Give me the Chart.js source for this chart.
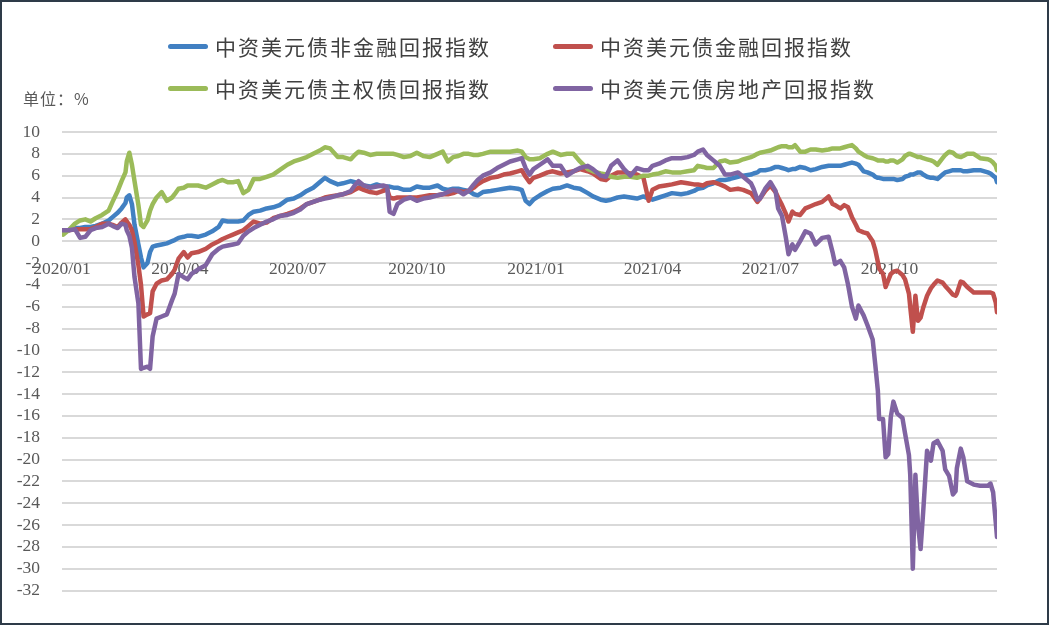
<!DOCTYPE html>
<html>
<head>
<meta charset="utf-8">
<script src="https://cdn.jsdelivr.net/npm/chart.js@4"></script>
<style>
html,body{margin:0;padding:0;background:#fff;}
#frame{position:relative;width:1049px;height:625px;box-sizing:border-box;border:2px solid #2e3b48;background:#fff;overflow:hidden;}
#box{position:absolute;left:0;top:0;width:1045px;height:621px;}
#legend{position:absolute;left:0;top:0;width:1045px;height:0;}
.item{position:absolute;display:flex;align-items:center;height:30px;font-family:"Noto Sans CJK SC";font-size:21px;letter-spacing:2px;color:#404040;white-space:nowrap;}
.swatch{display:inline-block;width:40px;height:5px;border-radius:3px;margin-right:7px;}
#unit{position:absolute;left:21px;top:86px;line-height:20px;font-family:"Noto Sans CJK SC";font-size:16px;letter-spacing:1px;color:#595959;}
</style>
</head>
<body>
<div id="frame">
  <div id="box"><canvas id="c"></canvas></div>
  <div id="legend"></div>
  <div id="unit">单位：%</div>
</div>
<script>
const seriesNames = ['中资美元债非金融回报指数','中资美元债金融回报指数','中资美元债主权债回报指数','中资美元债房地产回报指数'];
const seriesColors = ['#4180C2','#C0504D','#9BBB59','#8064A2'];
const tickDates = ['2020-01-01','2020-04-01','2020-07-01','2020-10-01','2021-01-01','2021-04-01','2021-07-01','2021-10-01'];
const tickLabels = ['2020/01','2020/04','2020/07','2020/10','2021/01','2021/04','2021/07','2021/10'];

const dates = [
'2020-01-02','2020-01-06','2020-01-11','2020-01-15','2020-01-19','2020-01-23','2020-01-27','2020-02-01','2020-02-06','2020-02-09',
'2020-02-13','2020-02-16','2020-02-19','2020-02-20','2020-02-22','2020-02-24','2020-02-26','2020-02-29','2020-03-02','2020-03-04',
'2020-03-07','2020-03-09','2020-03-11','2020-03-14','2020-03-18','2020-03-22','2020-03-26','2020-03-28','2020-03-31','2020-04-04',
'2020-04-07','2020-04-10','2020-04-15','2020-04-21','2020-04-26','2020-05-01','2020-05-04','2020-05-08','2020-05-12','2020-05-16',
'2020-05-20','2020-05-24','2020-05-28','2020-06-02','2020-06-07','2020-06-12','2020-06-17','2020-06-23','2020-06-28','2020-07-03',
'2020-07-08','2020-07-13','2020-07-18','2020-07-22','2020-07-26','2020-08-01','2020-08-05','2020-08-11','2020-08-14','2020-08-17',
'2020-08-21','2020-08-26','2020-08-31','2020-09-05','2020-09-08','2020-09-10','2020-09-13','2020-09-16','2020-09-21','2020-09-26',
'2020-10-01','2020-10-06','2020-10-11','2020-10-17','2020-10-21','2020-10-25','2020-10-29','2020-11-02','2020-11-06','2020-11-10',
'2020-11-14','2020-11-17','2020-11-21','2020-11-27','2020-12-02','2020-12-07','2020-12-12','2020-12-18','2020-12-21','2020-12-24',
'2020-12-27','2020-12-30','2021-01-04','2021-01-10','2021-01-14','2021-01-20','2021-01-25','2021-01-30','2021-02-04','2021-02-10',
'2021-02-14','2021-02-20','2021-02-24','2021-02-28','2021-03-05','2021-03-10','2021-03-15','2021-03-20','2021-03-25','2021-03-29',
'2021-04-01','2021-04-06','2021-04-11','2021-04-16','2021-04-23','2021-04-28','2021-05-03','2021-05-06','2021-05-10','2021-05-13',
'2021-05-18','2021-05-23','2021-05-27','2021-05-31','2021-06-06','2021-06-10','2021-06-16','2021-06-18','2021-06-21','2021-06-23',
'2021-06-27','2021-07-01','2021-07-05','2021-07-07','2021-07-10','2021-07-13','2021-07-15','2021-07-18','2021-07-20','2021-07-24',
'2021-07-28','2021-08-01','2021-08-05','2021-08-10','2021-08-15','2021-08-18','2021-08-20','2021-08-24','2021-08-27','2021-08-30',
'2021-09-02','2021-09-05','2021-09-07','2021-09-11','2021-09-14','2021-09-18','2021-09-20','2021-09-22','2021-09-23','2021-09-26',
'2021-09-28','2021-09-30','2021-10-02','2021-10-04','2021-10-07','2021-10-11','2021-10-13','2021-10-16','2021-10-17','2021-10-19',
'2021-10-21','2021-10-23','2021-10-25','2021-10-27','2021-10-30','2021-11-02','2021-11-04','2021-11-07','2021-11-11','2021-11-13',
'2021-11-16','2021-11-19','2021-11-21','2021-11-22','2021-11-25','2021-11-27','2021-11-30','2021-12-05','2021-12-10','2021-12-16',
'2021-12-18','2021-12-20','2021-12-22','2021-12-23'
];

const nonFinancial = [
1.0,1.0,1.2,1.2,1.3,1.3,1.4,1.6,1.9,2.2,
2.6,3.0,3.5,4.0,4.2,3.4,1.5,-0.3,-1.5,-2.4,
-2.0,-1.0,-0.5,-0.4,-0.3,-0.2,0.0,0.1,0.3,0.4,
0.5,0.5,0.4,0.6,0.9,1.3,1.9,1.8,1.8,1.8,
1.9,2.4,2.7,2.8,3.0,3.1,3.3,3.8,3.9,4.2,
4.6,4.9,5.4,5.8,5.5,5.2,5.3,5.5,5.4,5.3,
5.1,5.0,5.2,5.0,5.0,5.0,4.9,4.9,4.7,4.7,
5.0,4.9,4.9,5.1,4.8,4.7,4.8,4.8,4.7,4.6,
4.3,4.2,4.5,4.6,4.7,4.8,4.9,4.8,4.7,3.7,
3.4,3.8,4.2,4.6,4.8,4.9,5.1,4.9,4.8,4.4,
4.1,3.8,3.7,3.8,4.0,4.1,4.0,3.9,4.1,3.9,
3.8,4.0,4.2,4.4,4.3,4.4,4.6,4.8,4.9,5.1,
5.3,5.6,5.6,5.7,5.9,6.0,6.1,6.2,6.3,6.5,
6.5,6.6,6.8,6.8,6.7,6.6,6.5,6.6,6.6,6.8,
6.7,6.5,6.6,6.8,6.9,6.9,6.9,6.9,7.0,7.1,
7.2,7.1,7.0,6.4,6.3,6.1,5.9,5.8,5.8,5.7,
5.7,5.7,5.7,5.7,5.6,5.7,5.9,6.0,6.1,6.1,
6.2,6.3,6.3,6.1,5.9,5.8,5.8,5.7,6.1,6.3,
6.4,6.5,6.5,6.5,6.5,6.4,6.4,6.5,6.5,6.3,
6.2,6.0,5.8,5.4
];

const financial = [
1.0,1.0,1.1,1.1,1.1,1.1,1.3,1.6,1.6,1.5,
1.3,1.7,2.0,1.8,1.5,1.0,-0.1,-2.2,-4.0,-6.9,
-6.7,-6.6,-4.6,-3.9,-3.6,-3.5,-3.0,-2.6,-1.6,-1.0,
-1.5,-1.1,-1.0,-0.7,-0.3,0.0,0.2,0.4,0.6,0.8,
1.0,1.4,1.8,1.6,1.7,2.1,2.3,2.5,2.7,3.0,
3.4,3.6,3.8,4.0,4.1,4.2,4.3,4.5,4.7,4.9,
4.7,4.5,4.4,4.6,4.8,4.0,3.9,4.0,4.0,4.0,
4.0,4.1,4.2,4.2,4.3,4.3,4.4,4.6,4.5,4.6,
4.9,5.2,5.5,5.8,5.9,6.1,6.2,6.4,6.5,5.9,
5.4,5.8,6.0,6.3,6.4,6.2,6.3,6.4,6.6,6.4,
6.2,5.7,5.6,6.0,6.3,6.3,6.2,6.1,5.8,3.7,
4.7,5.0,5.1,5.2,5.4,5.3,5.2,5.2,5.1,5.3,
5.4,5.2,5.0,4.7,4.8,4.7,4.4,4.1,3.6,3.9,
4.6,5.1,4.5,4.0,3.3,2.5,1.8,2.7,2.5,2.4,
3.0,3.2,3.4,3.6,4.1,3.4,3.3,3.0,3.3,3.1,
2.2,1.5,1.0,0.8,0.7,0.0,-0.8,-1.9,-2.5,-3.0,
-4.2,-3.6,-3.0,-2.8,-2.7,-3.1,-3.5,-4.8,-6.0,-8.3,
-5.0,-7.3,-7.0,-6.1,-5.0,-4.3,-4.0,-3.6,-3.8,-4.1,
-4.5,-4.9,-5.0,-4.8,-3.7,-3.8,-4.2,-4.7,-4.7,-4.7,
-4.7,-4.8,-5.6,-6.5
];

const sovereign = [
0.6,1.0,1.6,1.9,2.0,1.8,2.1,2.4,2.8,3.6,
4.6,5.5,6.3,7.3,8.1,7.0,5.5,3.3,1.5,1.3,
1.9,2.8,3.4,4.0,4.5,3.7,4.0,4.3,4.8,4.9,
5.1,5.1,5.1,4.9,5.2,5.5,5.6,5.4,5.4,5.5,
4.4,4.7,5.7,5.7,5.9,6.1,6.5,7.0,7.3,7.5,
7.7,8.0,8.3,8.6,8.5,7.7,7.7,7.5,7.9,8.2,
8.1,7.9,8.0,8.0,8.0,8.0,8.0,7.9,7.7,7.8,
8.1,7.8,7.7,8.0,8.2,7.3,7.7,7.8,8.0,8.0,
7.9,7.9,8.0,8.2,8.2,8.2,8.2,8.3,8.2,7.7,
7.5,7.5,7.6,8.0,8.2,7.9,8.0,8.0,7.3,6.6,
6.4,6.2,6.1,5.9,5.8,5.9,5.9,5.8,6.0,6.0,
6.1,6.2,6.4,6.3,6.3,6.4,6.5,6.9,6.8,6.7,
6.7,7.3,7.4,7.2,7.3,7.5,7.7,7.8,8.0,8.1,
8.2,8.3,8.5,8.6,8.7,8.7,8.6,8.6,8.8,8.2,
8.2,8.4,8.4,8.3,8.4,8.5,8.5,8.5,8.6,8.7,
8.8,8.5,8.2,7.9,7.7,7.6,7.5,7.4,7.4,7.4,
7.3,7.3,7.4,7.4,7.2,7.5,7.8,8.0,8.0,7.9,
7.8,7.7,7.7,7.6,7.5,7.4,7.3,7.0,7.6,7.9,
8.2,8.1,7.9,7.8,7.7,7.8,8.0,8.0,7.6,7.5,
7.4,7.2,6.9,6.5
];

const realEstate = [
1.0,1.0,1.1,0.3,0.4,1.0,1.2,1.3,1.6,1.4,
1.2,1.6,1.5,1.0,0.5,-0.6,-3.3,-5.7,-11.7,-11.6,
-11.5,-11.7,-8.7,-7.1,-6.9,-6.7,-5.4,-4.8,-3.0,-3.3,
-3.5,-3.0,-2.6,-2.2,-1.2,-0.7,-0.5,-0.4,-0.3,-0.2,
0.5,0.9,1.2,1.5,1.8,2.0,2.3,2.4,2.6,2.9,
3.4,3.6,3.8,3.9,4.0,4.2,4.3,4.6,5.1,5.5,
5.1,4.9,5.0,5.1,5.0,2.7,2.5,3.4,3.8,4.0,
3.7,3.9,4.0,4.2,4.3,4.5,4.7,4.6,4.3,4.6,
5.2,5.6,6.0,6.3,6.7,7.0,7.3,7.5,7.6,6.7,
6.1,6.6,7.0,7.5,6.9,6.9,6.0,6.4,6.7,6.9,
6.6,6.0,5.9,6.9,7.4,6.6,6.0,6.7,6.5,6.5,
6.9,7.1,7.4,7.6,7.6,7.7,7.9,8.2,8.4,7.9,
7.4,6.9,6.1,6.1,6.3,5.9,5.3,4.8,3.8,3.9,
4.8,5.4,4.6,3.0,2.3,0.3,-1.2,-0.3,-0.8,0.0,
0.9,0.7,-0.3,0.3,0.4,-1.0,-2.1,-1.8,-2.4,-4.0,
-6.0,-7.1,-5.9,-6.8,-7.7,-9.0,-11.3,-13.7,-16.3,-16.3,
-19.8,-19.5,-16.1,-14.7,-15.8,-16.2,-17.6,-19.6,-21.4,-30.0,
-21.4,-26.0,-28.2,-24.8,-19.2,-20.1,-18.5,-18.3,-19.2,-20.9,
-21.5,-23.2,-22.9,-20.8,-19.0,-19.8,-22.0,-22.3,-22.4,-22.4,
-22.2,-23.0,-25.7,-27.1
];

const yMin = -32, yMax = 10, yStep = 2;

const dayOf = s => (Date.parse(s) - Date.parse('2020-01-01')) / 86400000;
const seriesValues = [nonFinancial, financial, sovereign, realEstate];
const drawOrder = [4, 3, 2, 1];

const datasets = seriesValues.map((vals, k) => ({
  label: seriesNames[k],
  data: dates.map((d, i) => ({ x: dayOf(d), y: vals[i] })),
  borderColor: seriesColors[k],
  backgroundColor: seriesColors[k],
  borderWidth: 4.5,
  pointRadius: 0,
  tension: 0,
  borderJoinStyle: 'round',
  borderCapStyle: 'round',
  order: drawOrder[k]
}));

const htmlLegend = {
  id: 'htmlLegend',
  afterUpdate(chart) {
    const box = document.getElementById('legend');
    box.innerHTML = '';
    const cols = [166, 551], rows = [29, 71];
    chart.data.datasets.forEach((ds, i) => {
      const item = document.createElement('div');
      item.className = 'item';
      item.style.left = cols[i % 2] + 'px';
      item.style.top = rows[Math.floor(i / 2)] + 'px';
      const sw = document.createElement('span');
      sw.className = 'swatch';
      sw.style.background = ds.borderColor;
      const tx = document.createElement('span');
      tx.textContent = ds.label;
      item.appendChild(sw);
      item.appendChild(tx);
      box.appendChild(item);
    });
  }
};

const tickFont = { family: '"Liberation Serif", "DejaVu Serif", serif', size: 17.5 };

new Chart(document.getElementById('c'), {
  type: 'line',
  data: { datasets },
  plugins: [htmlLegend],
  options: {
    responsive: true,
    maintainAspectRatio: false,
    animation: false,
    layout: { padding: { top: 130, right: 50, bottom: 22, left: 0 } },
    plugins: { legend: { display: false }, tooltip: { enabled: false } },
    scales: {
      x: {
        type: 'linear',
        position: { y: 0 },
        min: dayOf(tickDates[0]),
        max: dayOf(dates[dates.length - 1]),
        grid: { display: false },
        border: { display: false },
        afterBuildTicks: s => { s.ticks = tickDates.map(d => ({ value: dayOf(d) })); },
        ticks: {
          autoSkip: false,
          maxRotation: 0,
          padding: 10,
          color: '#595959',
          font: tickFont,
          callback: (v, i) => tickLabels[i]
        }
      },
      y: {
        min: yMin,
        max: yMax,
        afterFit: s => { s.width = 60; },
        grid: { color: '#d9d9d9', lineWidth: 2, drawTicks: false },
        border: { display: false },
        ticks: { stepSize: yStep, autoSkip: false, padding: 22, color: '#595959', font: tickFont }
      }
    }
  }
});
</script>
</body>
</html>
